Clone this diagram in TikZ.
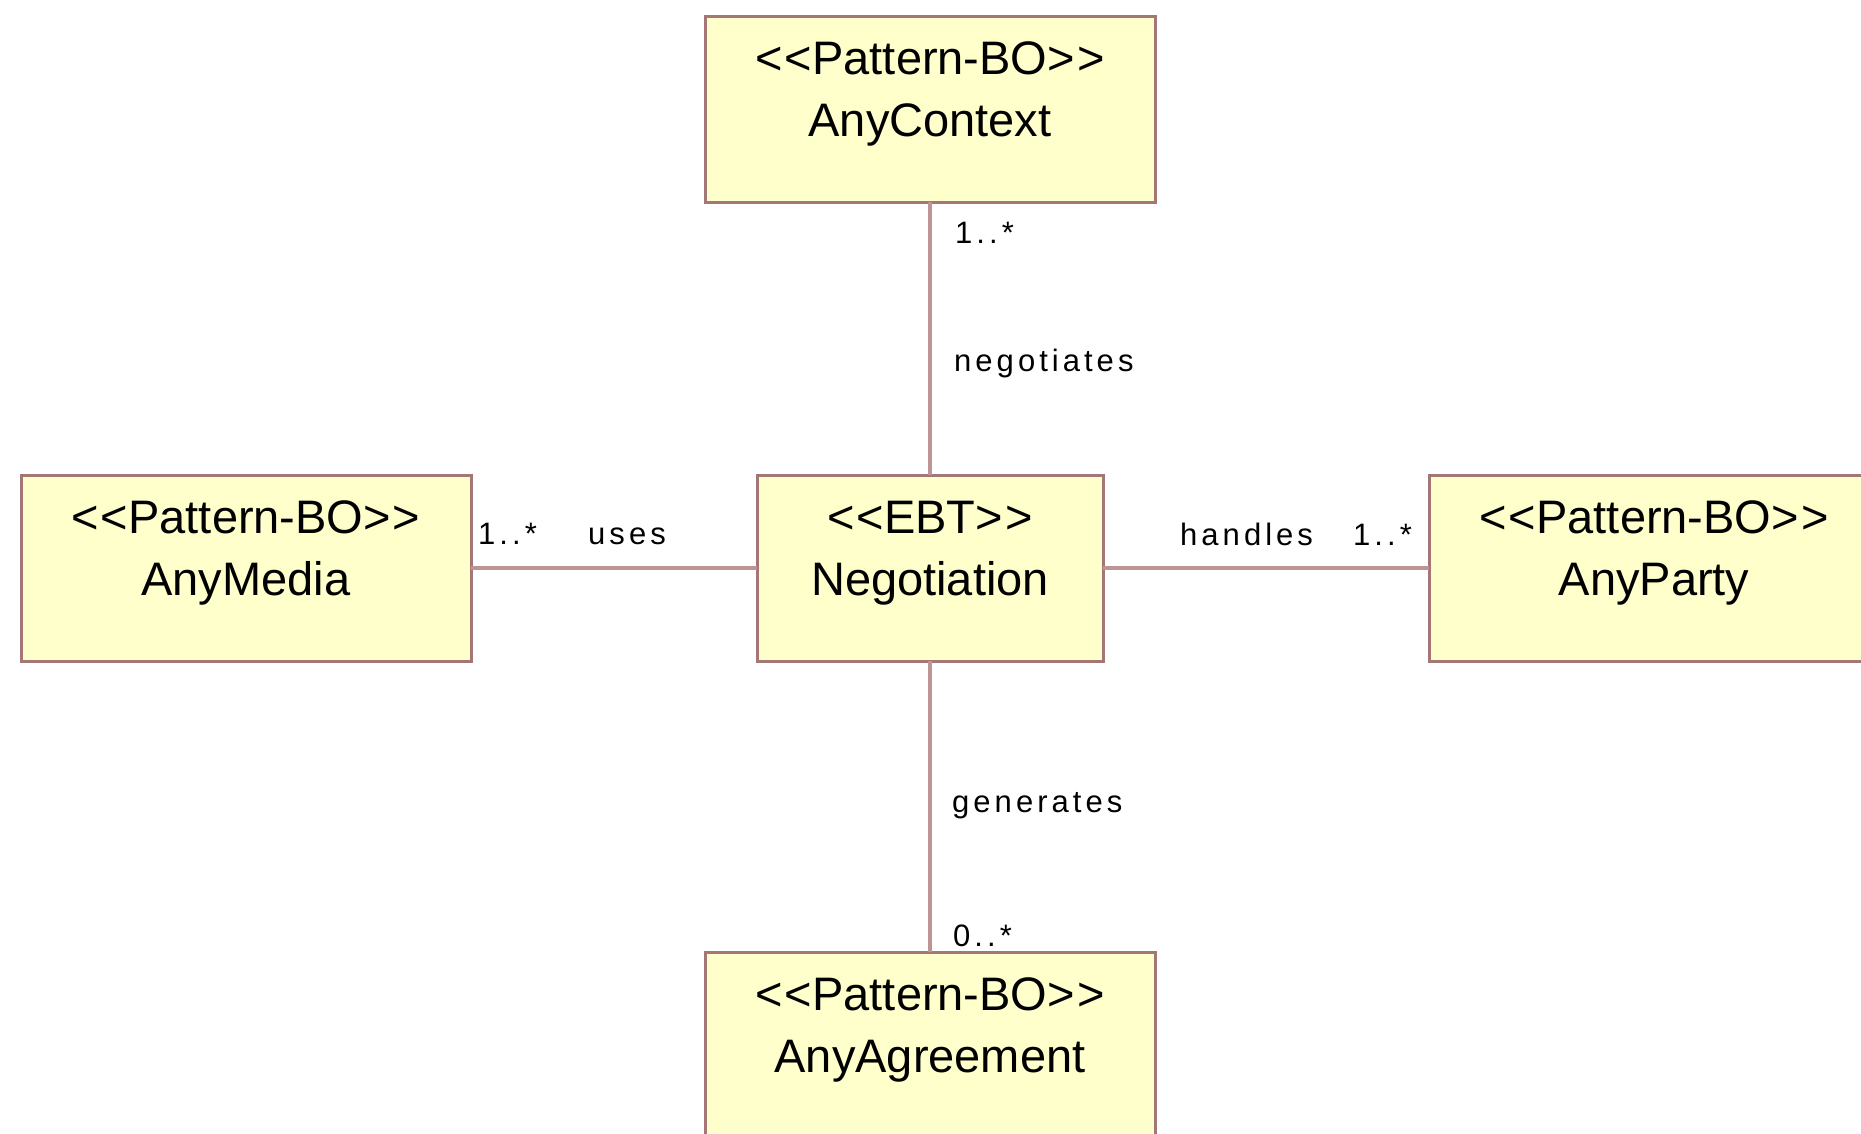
\documentclass[tikz,border=0pt]{standalone}
\usepackage{fontspec}
\setmainfont{Liberation Sans}
\newfontfamily\labelfont{Liberation Sans}[LetterSpace=13]

\definecolor{classfill}{HTML}{FFFFCC}
\definecolor{classedge}{HTML}{A47676}
\definecolor{assocline}{HTML}{BF9494}

% stereotype in doubled angle brackets (kerns keep << and >> as separate glyphs)
\newcommand{\stereotype}[1]{<\kern2pt<#1>\kern2pt>}

% class box body: fixed height, stereotype and name at the top, centred
\newcommand{\classtext}[3]{%
  \parbox[c][186pt][t]{#1}{\centering\fontsize{47}{62}\selectfont
    \rule{0pt}{58pt}\stereotype{#2}\\#3}}

\tikzset{
  classbox/.style={rectangle, draw=classedge, fill=classfill, line width=3pt,
                   inner sep=0pt, outer sep=0pt},
  assoc/.style={draw=assocline, line width=3.5pt},
  tag/.style={inner sep=0pt, anchor=base west,
              font=\labelfont\fontsize{31}{31}\selectfont},
}

\begin{document}
\begin{tikzpicture}[x=1pt, y=-1pt]
  \clip (0,0) rectangle (1861,1133);
  \fill[white] (0,0) rectangle (1861,1133);

  % classes
  \node[classbox] (ctx)   at (930,109)  {\classtext{450pt}{Pattern-BO}{AnyContext}};
  \node[classbox] (media) at (246,568)  {\classtext{450pt}{Pattern-BO}{AnyMedia}};
  \node[classbox] (neg)   at (930,568)  {\classtext{346pt}{EBT}{Negotiation}};
  \node[classbox] (party) at (1654,568) {\classtext{450pt}{Pattern-BO}{AnyParty}};
  \node[classbox] (agr)   at (930,1045) {\classtext{450pt}{Pattern-BO}{AnyAgreement}};

  % associations
  \draw[assoc] (ctx.south)  -- (neg.north);
  \draw[assoc] (media.east) -- (neg.west);
  \draw[assoc] (neg.east)   -- (party.west);
  \draw[assoc] (neg.south)  -- (agr.north);

  % role names and multiplicities
  \node[tag] (mctx)  at (955,243)  {1..*};
  \node[tag] (lneg)  at (954,371)  {negotiates};
  \node[tag] (lgen)  at (952,812)  {generates};
  \node[tag] (magr)  at (953,946)  {0..*};
  \node[tag] (mmed)  at (478,544)  {1..*};
  \node[tag] (luse)  at (588,544)  {uses};
  \node[tag] (lhan)  at (1180,545) {handles};
  \node[tag] (mpar)  at (1353,545) {1..*};
\end{tikzpicture}
\end{document}
